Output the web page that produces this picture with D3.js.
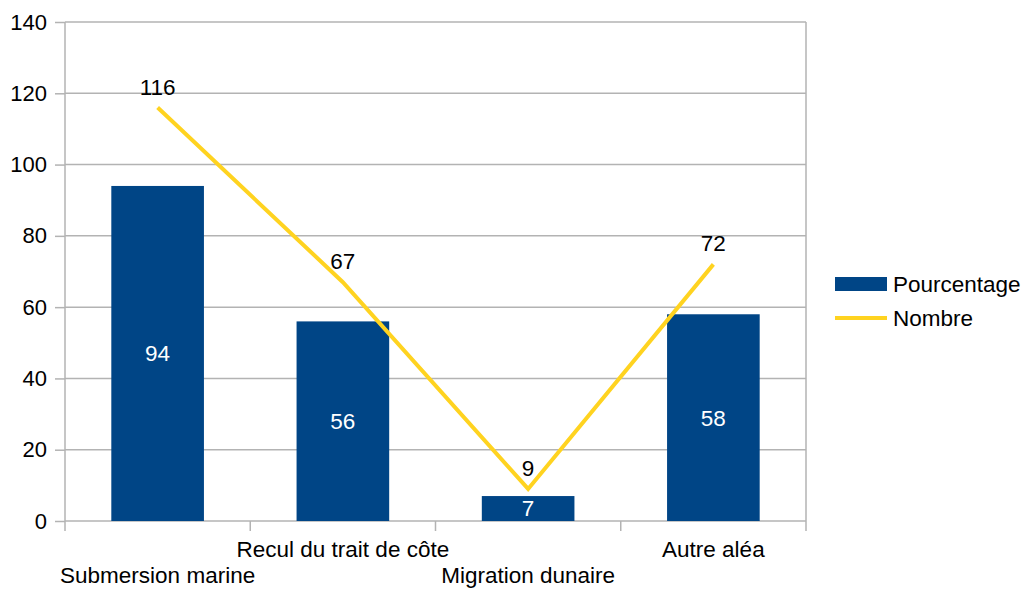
<!DOCTYPE html>
<html>
<head>
<meta charset="utf-8">
<script src="https://cdn.jsdelivr.net/npm/d3@7"></script>
<style>
  body { margin: 0; background: #fff; }
  text { font-family: "Liberation Sans", Arial, sans-serif; font-size: 22.5px; fill: #000; }
</style>
</head>
<body>
<div id="chart"></div>
<script>
// data
var categories = ["Submersion marine", "Recul du trait de côte", "Migration dunaire", "Autre aléa"];
var pourcentage = [94, 56, 7, 58];
var nombre = [116, 67, 9, 72];
var yTicks = [0, 20, 40, 60, 80, 100, 120, 140];
var seriesNames = ["Pourcentage", "Nombre"];

var width = 1022, height = 589
  , margin = { top: 22, right: 216, bottom: 68, left: 65 }
  , plotW = width - margin.left - margin.right
  , plotH = height - margin.top - margin.bottom
  , blue = "#004586"
  , yellow = "#ffd320"
  , grey = "#b3b3b3"
;

var svg = d3.select("#chart").append("svg")
    .attr("width", width)
    .attr("height", height)
;
var g = svg.append("g")
    .attr("transform", "translate(" + margin.left + "," + margin.top + ")")
;

var x = d3.scaleBand().domain(categories).range([0, plotW]);
var y = d3.scaleLinear().domain([0, 140]).range([plotH, 0]);

// gridlines + y axis
var yAxis = d3.axisLeft(y).tickValues(yTicks).tickSize(10).tickPadding(8);
var gy = g.append("g").call(yAxis);
gy.select(".domain").remove();
gy.selectAll(".tick line").attr("stroke", grey).attr("stroke-width", 1.5);
gy.selectAll(".tick text").style("font-size", "22px").attr("fill", "#000");

g.append("g")
  .selectAll("line")
    .data(yTicks)
  .enter().append("line")
    .attr("x1", 0)
    .attr("x2", plotW)
    .attr("y1", function(d) { return y(d); })
    .attr("y2", function(d) { return y(d); })
    .attr("stroke", grey)
    .attr("stroke-width", 1.5)
;
// plot border (left and right)
g.append("line").attr("x1", 0).attr("x2", 0).attr("y1", 0).attr("y2", plotH)
    .attr("stroke", grey).attr("stroke-width", 1.5);
g.append("line").attr("x1", plotW).attr("x2", plotW).attr("y1", 0).attr("y2", plotH)
    .attr("stroke", grey).attr("stroke-width", 1.5);

// x axis ticks at band edges
var edges = categories.map(function(c) { return x(c); }).concat([plotW]);
g.append("g")
  .selectAll("line")
    .data(edges)
  .enter().append("line")
    .attr("x1", function(d) { return d; })
    .attr("x2", function(d) { return d; })
    .attr("y1", plotH)
    .attr("y2", plotH + 10)
    .attr("stroke", grey)
    .attr("stroke-width", 1.5)
;
// staggered category labels
g.append("g")
  .selectAll("text")
    .data(categories)
  .enter().append("text")
    .attr("x", function(d) { return x(d) + x.bandwidth() / 2; })
    .attr("y", function(d, i) { return plotH + (i % 2 === 0 ? 62 : 36); })
    .attr("text-anchor", "middle")
    .text(function(d) { return d; })
;

// bars
var barW = x.bandwidth() * 0.5;
var bars = g.append("g")
  .selectAll("g")
    .data(pourcentage)
  .enter().append("g");
bars.append("rect")
    .attr("x", function(d, i) { return x(categories[i]) + (x.bandwidth() - barW) / 2; })
    .attr("y", function(d) { return y(d); })
    .attr("width", barW)
    .attr("height", function(d) { return plotH - y(d); })
    .attr("fill", blue)
;
bars.append("text")
    .attr("x", function(d, i) { return x(categories[i]) + x.bandwidth() / 2; })
    .attr("y", function(d) { return (y(d) + plotH) / 2; })
    .attr("dy", "0.35em")
    .attr("text-anchor", "middle")
    .style("fill", "#fff")
    .text(function(d) { return d; })
;

// line
var line = d3.line()
    .x(function(d, i) { return x(categories[i]) + x.bandwidth() / 2; })
    .y(function(d) { return y(d); });
g.append("path")
    .datum(nombre)
    .attr("d", line)
    .attr("fill", "none")
    .attr("stroke", yellow)
    .attr("stroke-width", 4)
;
g.append("g")
  .selectAll("text")
    .data(nombre)
  .enter().append("text")
    .attr("x", function(d, i) { return x(categories[i]) + x.bandwidth() / 2; })
    .attr("y", function(d) { return y(d) - 13; })
    .attr("text-anchor", "middle")
    .text(function(d) { return d; })
;

// legend
var legend = svg.append("g").attr("transform", "translate(835,284)");
legend.append("rect")
    .attr("x", 0).attr("y", -7).attr("width", 52).attr("height", 14)
    .attr("fill", blue);
legend.append("line")
    .attr("x1", 0).attr("x2", 52).attr("y1", 34).attr("y2", 34)
    .attr("stroke", yellow).attr("stroke-width", 4);
legend.selectAll("text")
    .data(seriesNames)
  .enter().append("text")
    .attr("x", 58)
    .attr("y", function(d, i) { return i * 34; })
    .attr("dy", "0.35em")
    .text(function(d) { return d; })
;
</script>
</body>
</html>
